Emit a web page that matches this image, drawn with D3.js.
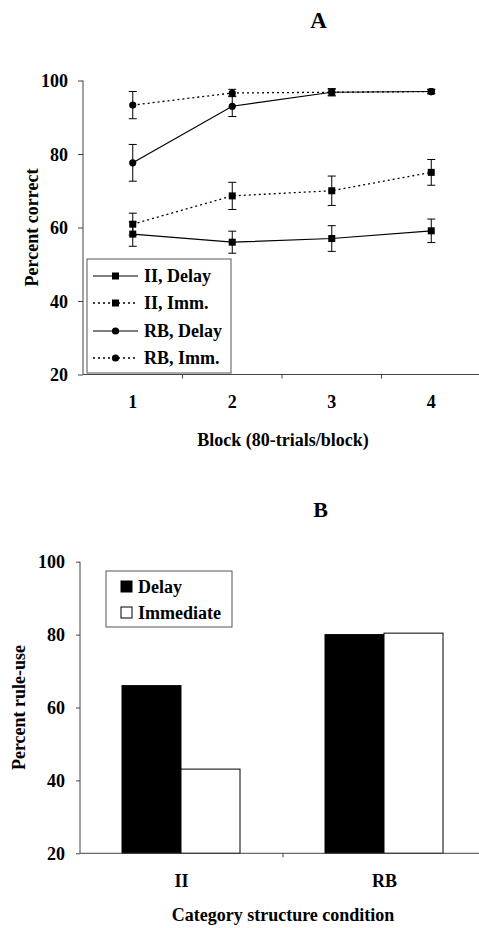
<!DOCTYPE html>
<html>
<head>
<meta charset="utf-8">
<script src="https://cdn.jsdelivr.net/npm/d3@7"></script>
<style>
  html, body { margin: 0; padding: 0; background: #fff; }
  svg { display: block; }
</style>
</head>
<body>
<svg id="chart" width="479" height="928"></svg>
<script>
// ---------- Data ----------
const blocks = [1, 2, 3, 4];
const yTicksA = [20, 40, 60, 80, 100];
const iiDelay = [58.2, 56.0, 57.0, 59.1];
const iiDelayErr = [3.3, 3.0, 3.5, 3.2];
const iiImm = [60.9, 68.6, 70.0, 75.0];
const iiImmErr = [3.0, 3.7, 4.0, 3.5];
const rbDelay = [77.6, 93.0, 96.8, 97.0];
const rbDelayErr = [5.0, 2.8, 1.0, 0.6];
const rbImm = [93.3, 96.6, 96.8, 97.0];
const rbImmErr = [3.7, 1.0, 0.8, 0.6];
const seriesNamesA = ["II, Delay", "II, Imm.", "RB, Delay", "RB, Imm."];

const conditions = ["II", "RB"];
const groupsB = ["Delay", "Immediate"];
const ruleDelay = [66.0, 80.0];
const ruleImm = [43.1, 80.4];
const yTicksB = [20, 40, 60, 80, 100];

const FONT = "'Liberation Serif', 'Times New Roman', Times, serif";
const svg = d3.select("#chart");
const axisColor = "#444";

function T(sel, size) {
  return sel.style("font-family", FONT).style("font-weight", "bold").style("font-size", size + "px").attr("fill", "#000");
}

// ---------- Panel A ----------
const xA = d3.scaleBand().domain(blocks).range([83, 481]);
const yA = d3.scaleLinear().domain([20, 100]).range([374.5, 80.5]);
const gA = svg.append("g");

T(gA.append("text").attr("x", 318.5).attr("y", 28).attr("text-anchor", "middle"), 23).text("A");

// y axis
const yAxisA = gA.append("g").attr("transform", "translate(83,0)")
  .call(d3.axisLeft(yA).tickValues(yTicksA).tickSize(5).tickSizeOuter(0).tickPadding(10));
T(yAxisA.selectAll("text"), 18).attr("dy", "0.34em");
yAxisA.selectAll("line, path").attr("stroke", axisColor);
yAxisA.select(".domain").attr("d", `M0,${yA(20)}V${yA(100)}`);

// x axis
const xAxisA = gA.append("g").attr("transform", `translate(0,${yA(20)})`);
xAxisA.append("line").attr("x1", 83).attr("x2", 479).attr("y1", 0).attr("y2", 0).attr("stroke", axisColor);
xAxisA.selectAll("line.tk").data(blocks).join("line").attr("class", "tk")
  .attr("x1", d => xA(d) + xA.bandwidth()).attr("x2", d => xA(d) + xA.bandwidth())
  .attr("y1", 0).attr("y2", 4).attr("stroke", axisColor);
T(xAxisA.selectAll("text.tl").data(blocks).join("text").attr("class", "tl")
  .attr("x", d => xA(d) + xA.bandwidth() / 2).attr("y", 33).attr("text-anchor", "middle"), 18).text(d => d);

T(gA.append("text").attr("x", 283).attr("y", 446).attr("text-anchor", "middle"), 18).text("Block (80-trials/block)");
T(gA.append("text").attr("transform", `translate(38,${(yA(20) + yA(100)) / 2}) rotate(-90)`)
  .attr("text-anchor", "middle"), 18).text("Percent correct");

const seriesA = [
  { vals: iiDelay, err: iiDelayErr, dash: null, marker: "square" },
  { vals: iiImm, err: iiImmErr, dash: "2,3", marker: "square" },
  { vals: rbDelay, err: rbDelayErr, dash: null, marker: "circle" },
  { vals: rbImm, err: rbImmErr, dash: "2,3", marker: "circle" }
];
const cx = i => xA(blocks[i]) + xA.bandwidth() / 2;
const line = d3.line().x((d, i) => cx(i)).y(d => yA(d));

function drawMarker(g, type, x, y) {
  if (type === "square") {
    g.append("rect").attr("x", x - 3.5).attr("y", y - 3.5).attr("width", 7).attr("height", 7).attr("fill", "#000");
  } else {
    g.append("circle").attr("cx", x).attr("cy", y).attr("r", 3.6).attr("fill", "#000");
  }
}

seriesA.forEach(s => {
  const g = gA.append("g");
  g.append("path").attr("d", line(s.vals)).attr("fill", "none").attr("stroke", "#000")
    .attr("stroke-width", s.dash ? 1.3 : 1.2).attr("stroke-dasharray", s.dash);
  s.vals.forEach((v, i) => {
    const x = cx(i);
    const t = yA(v + s.err[i]), b = yA(v - s.err[i]);
    g.append("line").attr("x1", x).attr("x2", x).attr("y1", t).attr("y2", b).attr("stroke", "#000");
    g.append("line").attr("x1", x - 4).attr("x2", x + 4).attr("y1", t).attr("y2", t).attr("stroke", "#000");
    g.append("line").attr("x1", x - 4).attr("x2", x + 4).attr("y1", b).attr("y2", b).attr("stroke", "#000");
    drawMarker(g, s.marker, x, yA(v));
  });
});

// legend A
const legA = gA.append("g");
legA.append("rect").attr("x", 87).attr("y", 259).attr("width", 144).attr("height", 114)
  .attr("fill", "#fff").attr("stroke", "#555");
const legRowsA = [276, 303, 331, 358];
seriesA.forEach((s, i) => {
  const y = legRowsA[i];
  legA.append("line").attr("x1", 93).attr("x2", 138).attr("y1", y).attr("y2", y)
    .attr("stroke", "#000").attr("stroke-width", s.dash ? 1.3 : 1.2).attr("stroke-dasharray", s.dash);
  drawMarker(legA, s.marker, 115.5, y);
  T(legA.append("text").attr("x", 144).attr("y", y + 6), 18).text(seriesNamesA[i]);
});

// ---------- Panel B ----------
const xB = d3.scaleBand().domain(conditions).range([80, 486]);
const xB1 = d3.scaleBand().domain(groupsB).range([42, 160]);
const yB = d3.scaleLinear().domain([20, 100]).range([853.3, 561.7]);
const gB = svg.append("g");

T(gB.append("text").attr("x", 320.5).attr("y", 517).attr("text-anchor", "middle"), 22).text("B");

const yAxisB = gB.append("g").attr("transform", "translate(80,0)")
  .call(d3.axisLeft(yB).tickValues(yTicksB).tickSize(4).tickSizeOuter(0).tickPadding(11));
T(yAxisB.selectAll("text"), 18).attr("dy", "0.34em");
yAxisB.selectAll("line, path").attr("stroke", axisColor);
yAxisB.select(".domain").attr("d", `M0,${yB(20)}V${yB(100)}`);

const barVals = [ruleDelay, ruleImm];
conditions.forEach((c, ci) => {
  groupsB.forEach((gname, gi) => {
    const v = barVals[gi][ci];
    gB.append("rect")
      .attr("x", xB(c) + xB1(gname)).attr("width", xB1.bandwidth())
      .attr("y", yB(v)).attr("height", yB(20) - yB(v))
      .attr("fill", gi === 0 ? "#000" : "#fff").attr("stroke", "#000").attr("stroke-width", 1);
  });
});

const xAxisB = gB.append("g").attr("transform", `translate(0,${yB(20)})`);
xAxisB.append("line").attr("x1", 80).attr("x2", 479).attr("y1", 0).attr("y2", 0).attr("stroke", axisColor);
xAxisB.selectAll("line.tk").data(conditions).join("line").attr("class", "tk")
  .attr("x1", d => xB(d) + xB.bandwidth()).attr("x2", d => xB(d) + xB.bandwidth())
  .attr("y1", 0).attr("y2", 4).attr("stroke", axisColor);
T(xAxisB.selectAll("text.tl").data(conditions).join("text").attr("class", "tl")
  .attr("x", d => xB(d) + xB.bandwidth() / 2).attr("y", 34).attr("text-anchor", "middle"), 18).text(d => d);

T(gB.append("text").attr("x", 283).attr("y", 921).attr("text-anchor", "middle"), 18).text("Category structure condition");
T(gB.append("text").attr("transform", `translate(25,${(yB(20) + yB(100)) / 2}) rotate(-90)`)
  .attr("text-anchor", "middle"), 18).text("Percent rule-use");

// legend B
const legB = gB.append("g");
legB.append("rect").attr("x", 106).attr("y", 571).attr("width", 126).attr("height", 56)
  .attr("fill", "#fff").attr("stroke", "#555");
const legRowsB = [587, 613];
groupsB.forEach((gname, i) => {
  const y = legRowsB[i];
  legB.append("rect").attr("x", 121).attr("y", y - 6).attr("width", 11).attr("height", 11)
    .attr("fill", i === 0 ? "#000" : "#fff").attr("stroke", "#000");
  T(legB.append("text").attr("x", 138).attr("y", y + 6), 18).text(gname);
});
</script>
</body>
</html>
